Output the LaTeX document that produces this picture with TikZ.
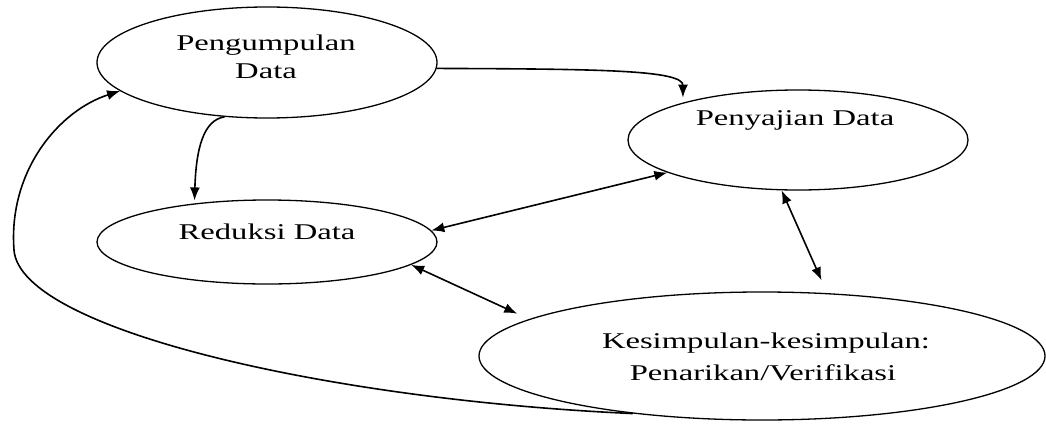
\documentclass[tikz,border=0pt]{standalone}
\usepackage{fontspec}
\setmainfont{Liberation Serif}[FakeStretch=1.45]
\usetikzlibrary{shapes.geometric,arrows.meta}
\begin{document}
\begin{tikzpicture}[x=1pt,y=-1pt,
  oval/.style={draw,ellipse,inner sep=0pt,line width=1.3pt},
  lbl/.style={anchor=base,inner sep=0pt,font=\fontsize{22.5}{27}\selectfont},
  conn/.style={line width=1.6pt},
  arr/.style={-{Latex[length=13pt,width=10pt]}},
  darr/.style={{Latex[length=13pt,width=10pt]}-{Latex[length=13pt,width=10pt]}}]
\useasboundingbox (0,0) rectangle (1046,423);
% ellipses
\node[oval,minimum width=340pt,minimum height=111pt] (peng) at (267,62.5) {};
\node[oval,minimum width=340pt,minimum height=100pt] (peny) at (798,140) {};
\node[oval,minimum width=340pt,minimum height=84pt] (red) at (267,242) {};
\node[oval,minimum width=566pt,minimum height=128pt] (kes) at (762,356) {};
% texts
\node[lbl] (t1) at (266,50) {Pengumpulan};
\node[lbl] (t2) at (266,78) {Data};
\node[lbl] (t3) at (795,125) {Penyajian Data};
\node[lbl] (t4) at (267,239) {Reduksi Data};
\node[lbl] (t5) at (766,348) {Kesimpulan-kesimpulan:};
\node[lbl] (t6) at (763,380) {Penarikan/Verifikasi};
% connectors
\draw[conn,arr,shorten >=5pt] (peng.-2) .. controls (600,69) and (683,70) .. (peny.162);
\draw[conn,arr,shorten >=3pt] (peng.-128) .. controls (203,120) and (196,150) .. (red.152);
\draw[conn,darr] (red.4) -- (peny.194);
\draw[conn,darr,shorten >=13pt] (red.-9) -- (kes.171);
\draw[conn,darr,shorten >=14pt] (peny.-108) -- (kes.44);
\coordinate (loopL) at (14,250);
\draw[conn,arr] (kes.204) .. controls (330,400) and (20,330) .. (loopL)
  .. controls (8,170) and (60,110) .. (peng.191);
\end{tikzpicture}
\end{document}
